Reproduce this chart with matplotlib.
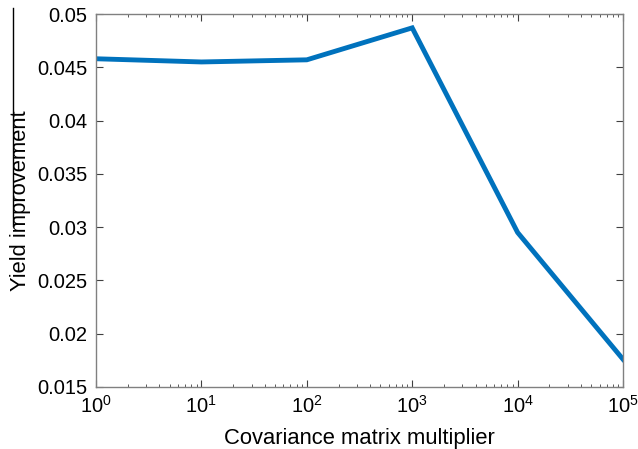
import matplotlib
matplotlib.use("Agg")
import matplotlib.pyplot as plt
from matplotlib.lines import Line2D
from matplotlib.ticker import LogLocator, NullFormatter

x_vals = [1, 10, 100, 1000, 10000, 100000]
y_vals = [0.0458, 0.0455, 0.0457, 0.0487, 0.0295, 0.0176]
y_ticks = [0.015, 0.02, 0.025, 0.03, 0.035, 0.04, 0.045, 0.05]
y_tick_labels = ["0.015", "0.02", "0.025", "0.03", "0.035", "0.04", "0.045", "0.05"]

plt.rcParams['font.family'] = ['Liberation Sans', 'DejaVu Sans']
plt.rcParams['mathtext.fontset'] = 'custom'
plt.rcParams['mathtext.rm'] = 'Liberation Sans'
plt.rcParams['mathtext.it'] = 'Liberation Sans'

fig = plt.figure(figsize=(6.38, 4.49), dpi=100)
ax = fig.add_axes([96/638, 1 - 387/449, (623-96)/638, (387-14)/449])

ax.plot(x_vals, y_vals, color='#0072BD', linewidth=3.5, solid_joinstyle='miter')
ax.set_xscale('log')
ax.set_xlim(1, 1e5)
ax.set_ylim(0.015, 0.05)
ax.set_yticks(y_ticks)
ax.set_yticklabels(y_tick_labels)
ax.xaxis.set_major_locator(LogLocator(base=10, numticks=10))
ax.xaxis.set_minor_locator(LogLocator(base=10, subs=range(2, 10), numticks=20))
ax.xaxis.set_minor_formatter(NullFormatter())

spine_color = '#808080'
for s in ax.spines.values():
    s.set_color(spine_color)
    s.set_linewidth(1.0)
ax.tick_params(which='both', direction='in', top=True, right=True, color='#404040',
               labelsize=14.5)
ax.tick_params(which='major', length=5)
ax.tick_params(which='minor', length=2.5)
ax.tick_params(axis='x', pad=6)
ax.tick_params(axis='y', pad=6)

ax.set_xlabel('Covariance matrix multiplier', fontsize=15.8, labelpad=8)
ax.set_ylabel('Yield improvement', fontsize=15.8)
ax.yaxis.set_label_coords((31 - 96) / 527, 0.5)

fig.add_artist(Line2D([12.5/638, 12.5/638], [1 - 8/449, 1 - 226/449], color='black', linewidth=1.0))

fig.savefig('out.png', dpi=100)
